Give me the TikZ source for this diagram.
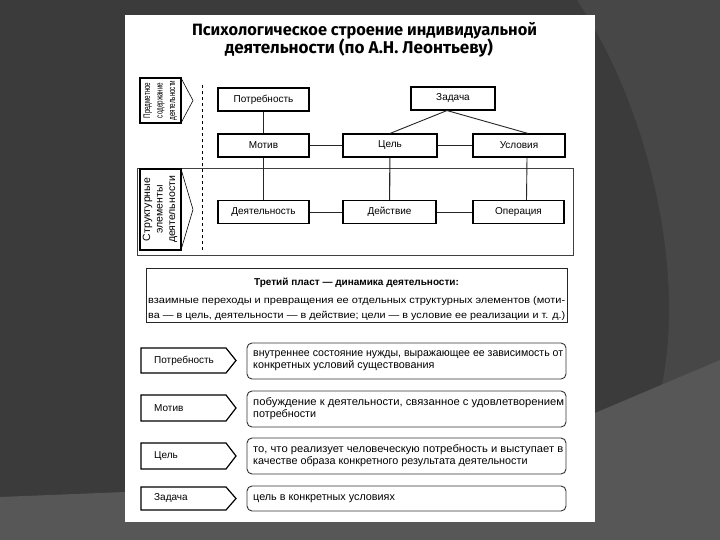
\documentclass[tikz,border=0pt]{standalone}
\usepackage{fontspec}
\usepackage{graphicx}
\setmainfont{Liberation Sans}
\newfontfamily\titlefont{Fira Sans}
\usetikzlibrary{calc}
\definecolor{bgdark}{HTML}{3B3B3B}
\definecolor{bgmid}{HTML}{474747}
\definecolor{bglight}{HTML}{575757}
\begin{document}
\begin{tikzpicture}[x=1pt,y=-1pt,
  nbox/.style={draw=black, line width=1.1pt, fill=white, minimum width=91pt, minimum height=23pt, inner sep=0pt, font=\fontsize{10}{12}\selectfont},
  link/.style={line width=0.9pt, draw=black!85},
  defbox/.style={draw=black!80, line width=0.9pt, rounded corners=5pt, fill=white},
  tagshape/.style={draw=black, line width=1.2pt, fill=white, line join=miter},
  deftext/.style={anchor=west, align=left, inner sep=0pt, font=\fontsize{10.8}{11.8}\selectfont},
  tagtext/.style={anchor=west, inner sep=0pt, font=\fontsize{10}{12}\selectfont},
  lblbox/.style={draw=black, line width=1.3pt},
  chev/.style={draw=black, line width=0.6pt},
  lbltext/.style={rotate=90, inner sep=0pt, font=\fontsize{10.5}{12.5}\selectfont}
]
\useasboundingbox (0,0) rectangle (720,540);
% background
\fill[bgdark] (0,0) rectangle (720,540);
\fill[bgmid] (577,0) .. controls (650,110) and (685,270) .. (662,385) -- (720,360) -- (720,0) -- cycle;
\fill[bglight] (0,497) -- (125,492) .. controls (350,470) and (500,440) .. (595,413) -- (720,360) -- (720,540) -- (0,540) -- cycle;
% page
\fill[white] (125,15) rectangle (595,522);
% title
\node[inner sep=0pt, font=\titlefont\bfseries\fontsize{15}{17}\selectfont] (t1) at (364.5,31) {\resizebox{345pt}{!}{Психологическое строение индивидуальной}};
\node[inner sep=0pt, font=\titlefont\bfseries\fontsize{15}{17}\selectfont] (t2) at (359,48) {\resizebox{268pt}{!}{деятельности (по А.Н. Леонтьеву)}};
% frame of structural elements
\draw[black!75, line width=0.8pt] (137,168) rectangle (573,255);
\draw[dashed, line width=0.6pt] (202,85) -- (202,250);
% side labels
\draw[lblbox] (140,78) rectangle (181,123);
\draw[chev] (181,78) -- (193,100.5) -- (181,123);
\node[lbltext, font=\fontsize{9.5}{12.5}\selectfont] (lbl1) at (160,100.5) {\scalebox{0.66}[1]{\begin{tabular}{@{}c@{}}Предметное\\содержание\\деятельности\end{tabular}}};
\draw[lblbox] (140,169) rectangle (181,250);
\draw[chev] (181,169) -- (193,209.5) -- (181,250);
\node[lbltext] (lbl2) at (160,209.5) {\begin{tabular}{@{}c@{}}Структурные\\элементы\\деятельности\end{tabular}};
% nodes
\node[nbox] (potr) at (263.5,99.5) {Потребность};
\node[nbox, minimum width=84pt] (zad) at (453,98.5) {Задача};
\node[nbox] (motiv) at (263.5,145.5) {Мотив};
\node[nbox, minimum width=94pt] (cel) at (390,145.5) {Цель};
\node[nbox, minimum width=92pt] (usl) at (519,145.5) {Условия};
\node[nbox] (deyat) at (263.5,212) {Деятельность};
\node[nbox, minimum width=93pt] (deyst) at (389.5,212) {Действие};
\node[nbox, minimum width=91pt] (oper) at (518.5,212) {Операция};
\draw[link] (potr) -- (motiv);
\draw[link] ([xshift=-6pt]zad.south) -- (cel.north);
\draw[link] ([xshift=-6pt]zad.south) -- ([xshift=9pt]usl.north);
\draw[link] (motiv) -- (cel);
\draw[link] (cel) -- (usl);
\draw[link] (motiv) -- (deyat);
\draw[link, line width=1.1pt] (cel) -- (deyst);
\draw[link] ([xshift=8pt]usl.south) -- ([xshift=8pt]oper.north);
\draw[link] (deyat) -- (deyst);
\draw[link] (deyst) -- (oper);
% third layer
\node[draw=black!85, line width=1pt, minimum width=421pt, minimum height=54pt, inner sep=0pt] (plast) at (356.5,295) {};
\node[inner sep=0pt, font=\bfseries\fontsize{10}{12}\selectfont] (plt) at (356.5,283) {Третий пласт — динамика деятельности:};
\node[anchor=west, inner sep=0pt, font=\fontsize{9.8}{11}\selectfont] (pl1) at (148,301) {\resizebox{417pt}{\height}{взаимные переходы и превращения ее отдельных структурных элементов (моти-}};
\node[anchor=west, inner sep=0pt, font=\fontsize{9.8}{11}\selectfont] (pl2) at (148,315.5) {\resizebox{417pt}{\height}{ва — в цель, деятельности — в действие; цели — в условие ее реализации и т. д.)}};
% definitions
\draw[tagshape] (141,348) -- (226,348) -- (236,360.5) -- (226,373) -- (141,373) -- cycle;
\node[tagtext] (tg1) at (154,360.5) {Потребность};
\draw[defbox] (247,343) rectangle (566,379);
\node[deftext] (d1) at (253,361) {\resizebox{310pt}{\height}{внутреннее состояние нужды, выражающее ее зависимость от}\\конкретных условий существования};
\draw[tagshape] (141,395) -- (226,395) -- (236,408) -- (226,421) -- (141,421) -- cycle;
\node[tagtext] (tg2) at (154,408) {Мотив};
\draw[defbox] (247,391) rectangle (566,427);
\node[deftext] (d2) at (253,409) {\resizebox{311pt}{\height}{побуждение к деятельности, связанное с удовлетворением}\\потребности};
\draw[tagshape] (141,443) -- (226,443) -- (236,456) -- (226,469) -- (141,469) -- cycle;
\node[tagtext] (tg3) at (154,456) {Цель};
\draw[defbox] (247,438) rectangle (566,474);
\node[deftext] (d3) at (253,456) {\resizebox{310pt}{\height}{то, что реализует человеческую потребность и выступает в}\\качестве образа конкретного результата деятельности};
\draw[tagshape] (141,487) -- (226,487) -- (236,498.5) -- (226,510) -- (141,510) -- cycle;
\node[tagtext] (tg4) at (154,498.5) {Задача};
\draw[defbox] (247,486) rectangle (566,511);
\node[deftext] (d4) at (253,498.5) {цель в конкретных условиях};
\end{tikzpicture}
\end{document}
